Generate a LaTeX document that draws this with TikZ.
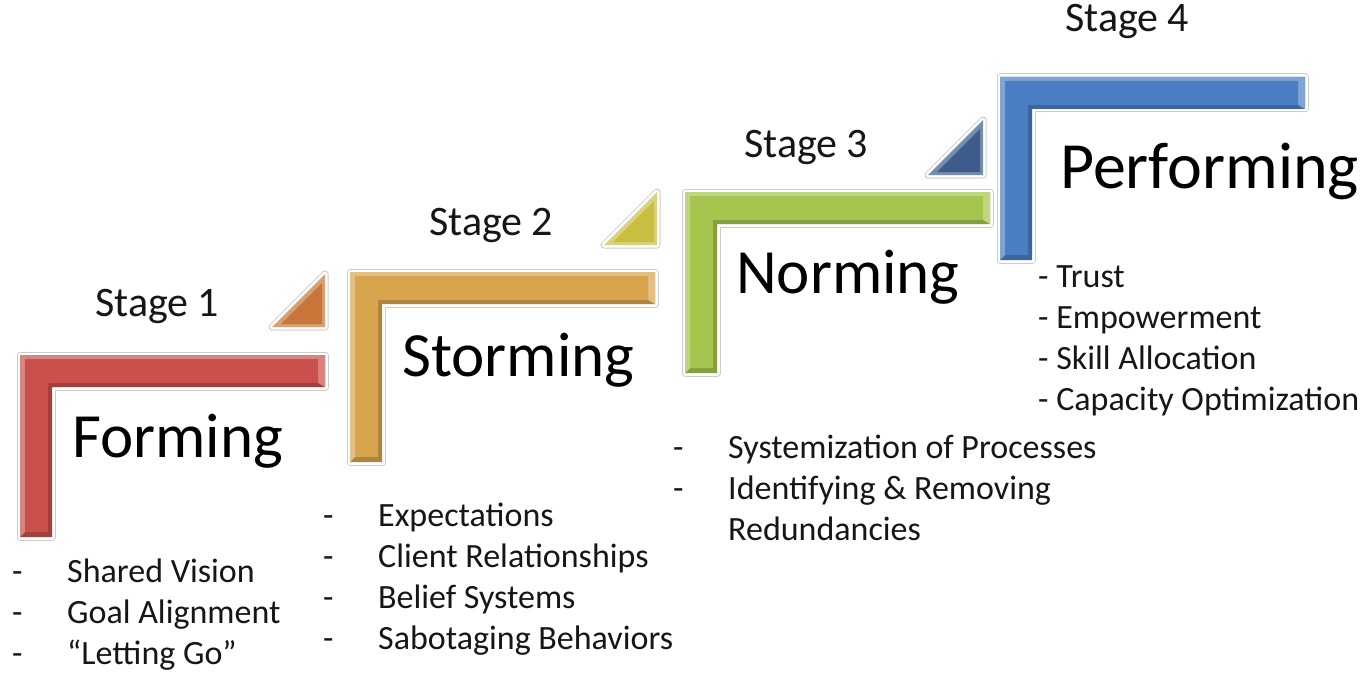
\documentclass[tikz,border=0pt]{standalone}
\usepackage{fontspec}
\setmainfont{Carlito}
\usepackage{xcolor}
\usetikzlibrary{positioning}

\definecolor{formred}{HTML}{C9504B}
\definecolor{stormgold}{HTML}{D8A44E}
\definecolor{normgreen}{HTML}{A6C54E}
\definecolor{perfblue}{HTML}{4A7EC2}
\definecolor{triorange}{HTML}{C8763A}
\definecolor{triolive}{HTML}{C8BE42}
\definecolor{trinavy}{HTML}{3D5C8C}
\definecolor{inkgray}{HTML}{161616}

\begin{document}
\begin{tikzpicture}[
  x=1pt, y=-1pt,
  halo/.style={draw=black!20, line width=1pt, double=white, double distance=5pt, line join=round},
  rim/.style={fill=#1!70!white},
  edge/.style={fill=#1!80!black},
  face/.style={fill=#1},
  stagelbl/.style={font=\fontsize{42}{50}\selectfont, text=inkgray, anchor=base west, inner sep=0pt},
  phase/.style={font=\fontsize{63}{75}\selectfont, text=black, anchor=base west, inner sep=0pt},
  items/.style={font=\fontsize{34}{41}\selectfont, text=inkgray, anchor=base west, inner sep=0pt}
]
\useasboundingbox (0,0) rectangle (1372,674);

% the four steps
\foreach \bx/\by/\bh/\bc in {20/355/182/formred, 350/272/190/stormgold, 685/192/181/normgreen, 1000/77/183/perfblue} {
  \path[halo] (\bx,\by) -- ++(305,0) -- ++(0,32) -- ++(-273,0) -- ++(0,{\bh-32}) -- ++(-32,0) -- cycle;
  \path[edge=\bc] (\bx,\by) -- ++(305,0) -- ++(0,32) -- ++(-273,0) -- ++(0,{\bh-32}) -- ++(-32,0) -- cycle;
  \path[rim=\bc] (\bx,\by) -- ++(305,0) -- ++(-7,4) -- ({\bx+28},{\by+4}) -- ({\bx+5},{\by+\bh-5}) -- ({\bx},{\by+\bh}) -- cycle;
  \path[rim=\bc] ({\bx+298},{\by+4}) -- ({\bx+305},{\by}) -- ({\bx+305},{\by+32}) -- ({\bx+298},{\by+28}) -- cycle;
  \path[face=\bc] ({\bx+5},{\by+4}) -- ({\bx+298},{\by+4}) -- ({\bx+298},{\by+28})
    -- ({\bx+28},{\by+28}) -- ({\bx+28},{\by+\bh-5}) -- ({\bx+5},{\by+\bh-5}) -- cycle;
}

% small wedges between the steps
\foreach \rx/\ry/\s/\tc in {325/327/53/triorange, 657/245/53/triolive, 983/175/55/trinavy} {
  \path[halo] ({\rx-\s},\ry) -- (\rx,{\ry-\s}) -- (\rx,\ry) -- cycle;
  \path[rim=\tc] ({\rx-\s},\ry) -- (\rx,{\ry-\s}) -- (\rx,\ry) -- cycle;
  \path[face=\tc] ({\rx-\s+9},{\ry-3}) -- ({\rx-3},{\ry-\s+9}) -- ({\rx-3},{\ry-3}) -- cycle;
}

\node[stagelbl] (s1) at (95,316) {Stage 1};
\node[stagelbl] (s2) at (429,235) {Stage 2};
\node[stagelbl] (s3) at (744,157) {Stage 3};
\node[stagelbl] (s4) at (1065,32) {Stage 4};

\node[phase] (forming) at (72,457) {Forming};
\node[phase] (storming) at (402,376) {Storming};
\node[phase] (norming) at (736,293) {Norming};
\node[phase, font=\fontsize{66}{78}\selectfont] (performing) at (1060,188) {Performing};

\node[items] (list1) at (12,582) {\begin{tabular}[t]{@{}p{55pt}@{}l@{}}
  - & Shared Vision\\
  - & Goal Alignment\\
  - & “Letting Go”
\end{tabular}};

\node[items] (list2) at (323,526) {\begin{tabular}[t]{@{}p{55pt}@{}l@{}}
  - & Expectations\\
  - & Client Relationships\\
  - & Belief Systems\\
  - & Sabotaging Behaviors
\end{tabular}};

\node[items] (list3) at (673,458) {\begin{tabular}[t]{@{}p{55pt}@{}l@{}}
  - & Systemization of Processes\\
  - & Identifying \& Removing\\
    & Redundancies
\end{tabular}};

\node[items] (list4) at (1038,287) {\begin{tabular}[t]{@{}l@{}}
  - Trust\\
  - Empowerment\\
  - Skill Allocation\\
  - Capacity Optimization
\end{tabular}};

\end{tikzpicture}
\end{document}
